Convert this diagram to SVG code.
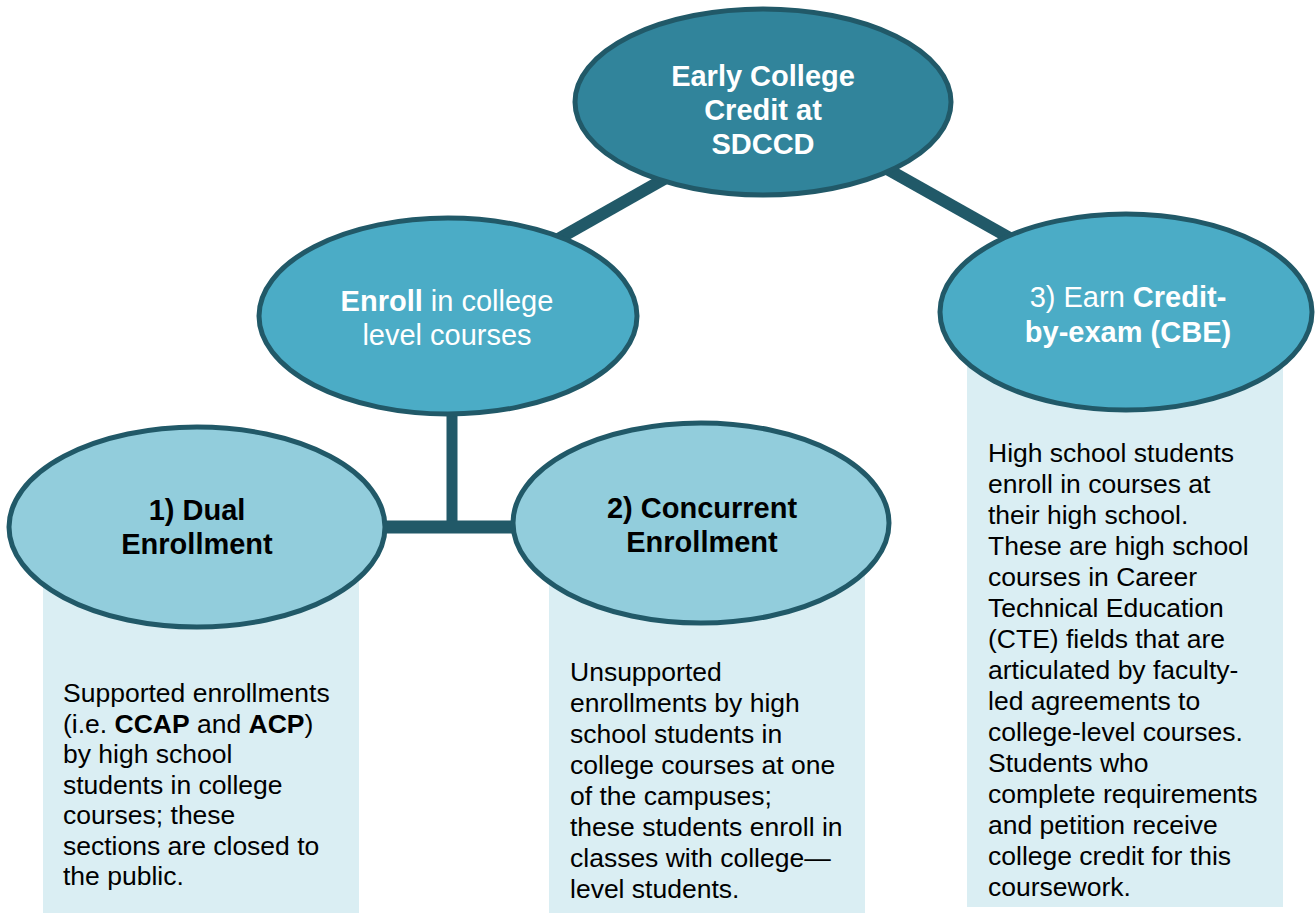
<svg xmlns="http://www.w3.org/2000/svg" width="1315" height="913" viewBox="0 0 1315 913">
<style>
.bg{fill:#ffffff}
.box{fill:#DAEEF3}
.conn{stroke:#215968;fill:none;stroke-linecap:butt}
.ell{stroke:#215968;stroke-width:5}
.dark{fill:#31849B}
.mid{fill:#4BACC6}
.light{fill:#92CDDC}
.hw{font-family:"Liberation Sans",Arial,sans-serif;font-size:29px;fill:#ffffff;text-anchor:middle}
.hb{font-family:"Liberation Sans",Arial,sans-serif;font-size:29px;font-weight:bold;fill:#000000;text-anchor:middle}
.body{font-family:"Liberation Sans",Arial,sans-serif;font-size:26.5px;fill:#000000}
.b{font-weight:bold}
</style>
<rect class="bg" x="0" y="0" width="1315" height="913"/>
<g id="box-dual">
<rect class="box" x="43" y="560" width="316" height="353"/>
<text class="body" x="63" y="702">
<tspan x="63" y="702">Supported enrollments</tspan>
<tspan x="63" y="732.5">(i.e. <tspan class="b">CCAP</tspan> and <tspan class="b">ACP</tspan>)</tspan>
<tspan x="63" y="763">by high school</tspan>
<tspan x="63" y="793.5">students in college</tspan>
<tspan x="63" y="824">courses; these</tspan>
<tspan x="63" y="854.5">sections are closed to</tspan>
<tspan x="63" y="885">the public.</tspan>
</text>
</g>
<g id="box-concurrent">
<rect class="box" x="549" y="560" width="316" height="353"/>
<text class="body">
<tspan x="570" y="681">Unsupported</tspan>
<tspan x="570" y="712">enrollments by high</tspan>
<tspan x="570" y="743">school students in</tspan>
<tspan x="570" y="774">college courses at one</tspan>
<tspan x="570" y="805">of the campuses;</tspan>
<tspan x="570" y="836">these students enroll in</tspan>
<tspan x="570" y="867">classes with college—</tspan>
<tspan x="570" y="898">level students.</tspan>
</text>
</g>
<g id="box-cbe">
<rect class="box" x="967" y="360" width="316" height="547"/>
<text class="body">
<tspan x="988" y="462">High school students</tspan>
<tspan x="988" y="493">enroll in courses at</tspan>
<tspan x="988" y="524">their high school.</tspan>
<tspan x="988" y="555">These are high school</tspan>
<tspan x="988" y="586">courses in Career</tspan>
<tspan x="988" y="617">Technical Education</tspan>
<tspan x="988" y="648">(CTE) fields that are</tspan>
<tspan x="988" y="679">articulated by faculty-</tspan>
<tspan x="988" y="710">led agreements to</tspan>
<tspan x="988" y="741">college-level courses.</tspan>
<tspan x="988" y="772">Students who</tspan>
<tspan x="988" y="803">complete requirements</tspan>
<tspan x="988" y="834">and petition receive</tspan>
<tspan x="988" y="865">college credit for this</tspan>
<tspan x="988" y="896">coursework.</tspan>
</text>
</g>
<g id="connectors">
<line class="conn" x1="530" y1="255" x2="680" y2="170" stroke-width="12"/>
<line class="conn" x1="880" y1="165" x2="1040" y2="255" stroke-width="12"/>
<line class="conn" x1="452" y1="410" x2="452" y2="528" stroke-width="11"/>
<line class="conn" x1="380" y1="527" x2="518" y2="527" stroke-width="13"/>
</g>
<g id="node-root">
<ellipse class="ell dark" cx="763" cy="102" rx="188" ry="93"/>
<text class="hw" font-weight="bold"><tspan x="763" y="86">Early College</tspan><tspan x="763" y="120">Credit at</tspan><tspan x="763" y="154">SDCCD</tspan></text>
</g>
<g id="node-enroll">
<ellipse class="ell mid" cx="448" cy="316" rx="189" ry="98"/>
<text class="hw"><tspan x="447" y="311"><tspan font-weight="bold">Enroll</tspan> in college</tspan><tspan x="447" y="345">level courses</tspan></text>
</g>
<g id="node-cbe">
<ellipse class="ell mid" cx="1126" cy="312" rx="186" ry="98"/>
<text class="hw"><tspan x="1128" y="307">3) Earn <tspan font-weight="bold">Credit-</tspan></tspan><tspan x="1128" y="342" font-weight="bold">by-exam (CBE)</tspan></text>
</g>
<g id="node-dual">
<ellipse class="ell light" cx="197" cy="527" rx="188" ry="100"/>
<text class="hb"><tspan x="197" y="520">1) Dual</tspan><tspan x="197" y="554">Enrollment</tspan></text>
</g>
<g id="node-concurrent">
<ellipse class="ell light" cx="701" cy="523" rx="188" ry="100"/>
<text class="hb"><tspan x="702" y="518">2) Concurrent</tspan><tspan x="702" y="552">Enrollment</tspan></text>
</g>
</svg>
